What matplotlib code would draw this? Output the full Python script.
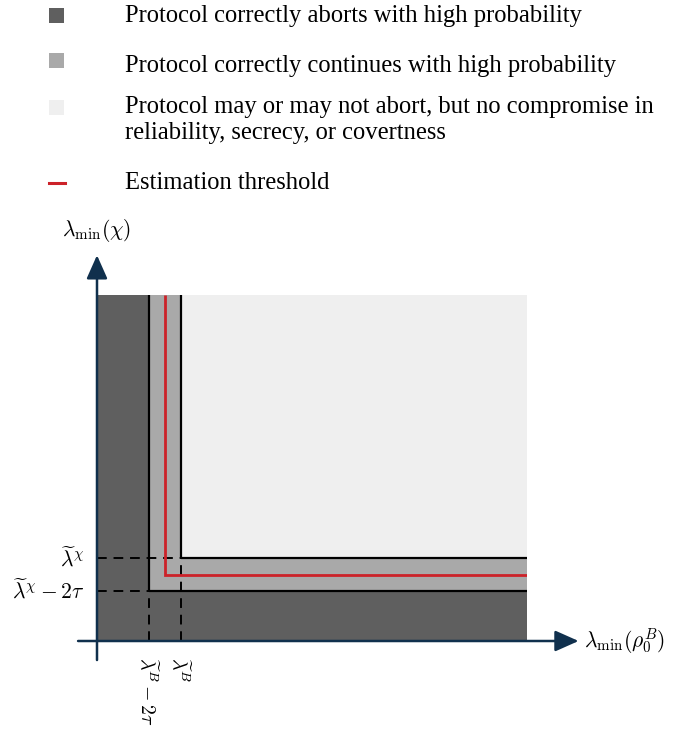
import matplotlib
matplotlib.use("Agg")
import matplotlib.pyplot as plt
from matplotlib.patches import Rectangle
from matplotlib.lines import Line2D

plt.rcParams['mathtext.fontset'] = 'cm'

# ---- data (abstract units of the schematic) ----
x_max, y_max = 10.0, 8.0
x_lo, x_est, x_hi = 1.21, 1.58, 1.95     # lambda^B - 2tau, estimation threshold, lambda^B
y_lo, y_est, y_hi = 1.16, 1.53, 1.91     # lambda^chi - 2tau, estimation threshold, lambda^chi

x_ticklabels = [r'$\widetilde{\lambda}^{B} - 2\tau$', r'$\widetilde{\lambda}^{B}$']
y_ticklabels = [r'$\widetilde{\lambda}^{\chi} - 2\tau$', r'$\widetilde{\lambda}^{\chi}$']
x_axis_label = r'$\lambda_{\min}(\rho_0^B)$'
y_axis_label = r'$\lambda_{\min}(\chi)$'

legend_labels = [
    'Protocol correctly aborts with high probability',
    'Protocol correctly continues with high probability',
    'Protocol may or may not abort, but no compromise in\nreliability, secrecy, or covertness',
    'Estimation threshold',
]

# ---- styles ----
c_dark = '#5f5f5f'
c_mid = '#a9a9a9'
c_light = '#efefef'
c_red = '#cc2229'
c_axis = '#10304d'

W, H = 689, 730
fig = plt.figure(figsize=(W / 100, H / 100), dpi=100)
ax = fig.add_axes([97 / W, 89 / H, 430 / W, 346 / H])
ax.set_xlim(0, x_max)
ax.set_ylim(0, y_max)
ax.axis('off')

# regions
ax.add_patch(Rectangle((0, 0), x_max, y_max, facecolor=c_dark, edgecolor='none', zorder=1))
ax.add_patch(Rectangle((x_lo, y_lo), x_max - x_lo, y_max - y_lo, facecolor=c_mid, edgecolor='none', zorder=2))
ax.add_patch(Rectangle((x_hi, y_hi), x_max - x_hi, y_max - y_hi, facecolor=c_light, edgecolor='none', zorder=3))

# boundaries
lw_b = 1.6
ax.plot([x_lo, x_lo], [y_lo, y_max], color='black', lw=lw_b, zorder=5, solid_capstyle='butt')
ax.plot([x_lo, x_max], [y_lo, y_lo], color='black', lw=lw_b, zorder=5, solid_capstyle='butt')
ax.plot([x_hi, x_hi], [y_hi, y_max], color='black', lw=lw_b, zorder=5, solid_capstyle='butt')
ax.plot([x_hi, x_max], [y_hi, y_hi], color='black', lw=lw_b, zorder=5, solid_capstyle='butt')

# estimation threshold
ax.plot([x_est, x_est, x_max], [y_max, y_est, y_est], color=c_red, lw=2.0, zorder=6,
        solid_joinstyle='miter', solid_capstyle='butt')

# dashed guides
dash = (0, (5, 3.5))
ax.plot([0, x_hi], [y_hi, y_hi], color='black', lw=1.4, ls=dash, zorder=5)
ax.plot([0, x_lo], [y_lo, y_lo], color='black', lw=1.4, ls=dash, zorder=5)
ax.plot([x_lo, x_lo], [0, y_lo], color='black', lw=1.4, ls=dash, zorder=5)
ax.plot([x_hi, x_hi], [0, y_hi], color='black', lw=1.4, ls=dash, zorder=5)

# axes arrows
arrow_kw = dict(arrowstyle='-|>,head_length=0.9,head_width=0.4', color=c_axis, lw=1.8,
                mutation_scale=16, shrinkA=0, shrinkB=0)
ax.annotate('', xy=(0, 8.92), xytext=(0, -0.44), arrowprops=arrow_kw, annotation_clip=False, zorder=8)
ax.annotate('', xy=(11.2, 0), xytext=(-0.44, 0), arrowprops=arrow_kw, annotation_clip=False, zorder=8)

# axis labels
ax.text(0, 9.5, y_axis_label, ha='center', va='center', fontsize=15.5, clip_on=False)
ax.text(11.32, 0, x_axis_label, ha='left', va='center', fontsize=15.5, clip_on=False)

# tick labels
for yv, lab in zip([y_lo, y_hi], y_ticklabels):
    ax.text(-0.3, yv, lab, ha='right', va='center', fontsize=15.5, clip_on=False)
for xv, lab in zip([x_lo, x_hi], x_ticklabels):
    ax.text(xv - 0.04, -0.36, lab, ha='center', va='top', rotation=-90, fontsize=14.3, clip_on=False)

# legend (manual)
serif = 'Liberation Serif'
sq = 15
rows_y = [15, 60, 107, 183]       # handle centres (px from top)
text_y = [16, 66, 120, 183]
for i, lab in enumerate(legend_labels):
    if i < 3:
        col = [c_dark, c_mid, c_light][i]
        fig.add_artist(Rectangle((49 / W, 1 - (rows_y[i] + sq / 2) / H), sq / W, sq / H,
                                 transform=fig.transFigure, facecolor=col, edgecolor='none'))
    else:
        fig.add_artist(Line2D([49 / W, 65 / W], [1 - rows_y[i] / H] * 2, transform=fig.transFigure,
                              color=c_red, lw=2.2))
    fig.text(125 / W, 1 - text_y[i] / H, lab, ha='left', va='center', fontsize=17.7,
             family=serif, linespacing=1.28)

fig.savefig('out.png', dpi=100)
